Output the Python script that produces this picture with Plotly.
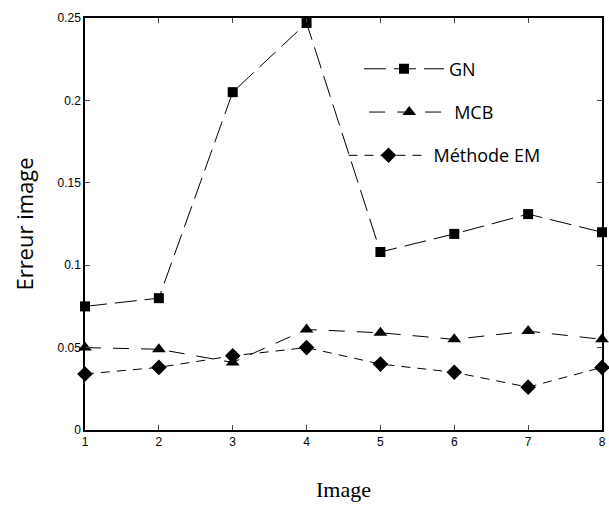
import plotly.graph_objects as go

images = [1, 2, 3, 4, 5, 6, 7, 8]
gn = [0.075, 0.080, 0.205, 0.247, 0.108, 0.119, 0.131, 0.120]
mcb = [0.050, 0.049, 0.041, 0.061, 0.059, 0.055, 0.060, 0.055]
em = [0.034, 0.038, 0.045, 0.050, 0.040, 0.035, 0.026, 0.038]

y_ticks = [0, 0.05, 0.1, 0.15, 0.2, 0.25]
y_tick_text = ["0", "0.05", "0.1", "0.15", "0.2", "0.25"]

series = [
    ("GN", gn, "square", 10, "22px,8px", "legend"),
    ("MCB", mcb, "triangle-up", 12, "16px,12px", "legend2"),
    ("Méthode EM", em, "diamond", 12, "9px,7px", "legend3"),
]

fig = go.Figure()
for name, vals, sym, size, dash, leg in series:
    fig.add_trace(go.Scatter(
        x=images, y=vals, name=name, mode="lines+markers",
        line=dict(color="black", width=1, dash=dash),
        marker=dict(symbol=sym, size=size, color="black"),
        legend=leg, cliponaxis=False,
    ))

leg_common = dict(
    font=dict(family="Open Sans, Arial", size=18, color="black"),
    bgcolor="rgba(0,0,0,0)", itemwidth=80,
    xanchor="left", yanchor="middle",
)

fig.update_layout(
    width=609, height=521,
    margin=dict(l=85, r=3, t=18, b=91),
    plot_bgcolor="white", paper_bgcolor="white",
    showlegend=True,
    legend=dict(x=0.53, y=0.876, **leg_common),
    legend2=dict(x=0.54, y=0.771, **leg_common),
    legend3=dict(x=0.50, y=0.666, **leg_common),
    xaxis=dict(
        range=[1, 8], tickvals=images, ticks="inside", ticklen=5,
        showline=True, linecolor="black", linewidth=1.5, mirror="ticks",
        showgrid=False, zeroline=False,
        tickfont=dict(family="Arial", size=12, color="black"),
        title=dict(text="Image", font=dict(family="Liberation Serif, Times New Roman", size=22, color="black"), standoff=33),
    ),
    yaxis=dict(
        range=[0, 0.25], tickvals=y_ticks, ticktext=y_tick_text,
        ticks="inside", ticklen=5,
        showline=True, linecolor="black", linewidth=1.5, mirror="ticks",
        showgrid=False, zeroline=False,
        tickfont=dict(family="Arial", size=12, color="black"),
        title=dict(text="Erreur image", font=dict(family="Open Sans, Arial", size=22, color="black"), standoff=18),
    ),
)

fig.write_html("out.html")
